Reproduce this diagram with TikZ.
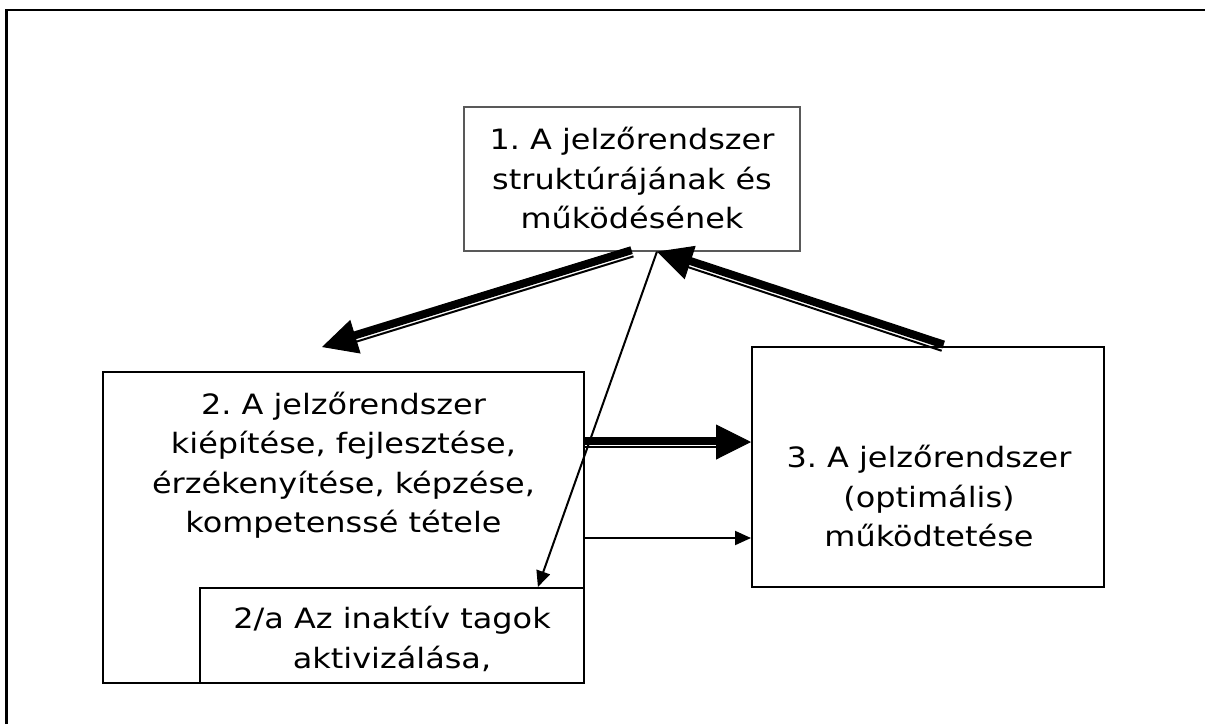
\documentclass[tikz,border=0pt]{standalone}
\usepackage{fontspec}
\setmainfont[FakeStretch=1.14]{DejaVu Sans}
\usetikzlibrary{arrows.meta,calc}
\newcommand\wdarrow[4]{%
  \draw[line width=8pt, shorten >=30pt] ($(#1)!#3!90:(#2)$) -- ($(#2)!#3!-90:(#1)$);
  \draw[line width=2pt, shorten >=30pt] ($(#1)!#4!90:(#2)$) -- ($(#2)!#4!-90:(#1)$);
  \draw[line width=1pt, -{Triangle[length=35pt,width=35pt]}] (#1) -- (#2);
}
\begin{document}
\frenchspacing
\begin{tikzpicture}[x=1pt,y=-1pt,
  box/.style={draw=black, line width=2pt, fill=white, rectangle, inner sep=0pt},
  txt/.style={align=center, inner sep=0pt, font=\fontsize{28pt}{39.5pt}\selectfont},
  thinarrow/.style={line width=2pt, -{Triangle[length=16pt,width=14pt]}}]
\useasboundingbox (0,0) rectangle (1205,724);
\fill[white] (0,0) rectangle (1205,724);
\draw[line width=2.5pt] (6.5,724) -- (6.5,10) -- (1205,10);
% boxes
\node[box, draw=black!65, line width=1.2pt, minimum width=336pt, minimum height=144pt] (b1) at (632,179) {};
\node[txt] (t1) at (632,178) {1. A jelzőrendszer\\struktúrájának és\\működésének};
\node[box, minimum width=481pt, minimum height=311pt] (b2) at (343.5,527.5) {};
\node[txt] (t2) at (343.5,465) {2. A jelzőrendszer\\kiépítése, fejlesztése,\\érzékenyítése, képzése,\\kompetenssé tétele};
\node[box, minimum width=384pt, minimum height=95pt] (b2a) at (392,635.5) {};
\node[txt] (t2a) at (392,639) {2/a Az inaktív tagok\\aktivizálása,};
\node[box, minimum width=352pt, minimum height=240pt] (b3) at (928,467) {};
\node[txt] (t3) at (929,496) {3. A jelzőrendszer\\(optimális)\\működtetése};
% coordinates
\coordinate (a1t) at (322,347);
\coordinate (a2s) at ($(b3.north west)!0.543!(b3.north east)$);
\coordinate (a2t) at ($(b1.south west)!0.574!(b1.south east)$);
\coordinate (a3s) at ($(b2.north east)+(0,71)$);
\coordinate (a3t) at (b3.west |- a3s);
\coordinate (a4s) at ($(b2.north east)+(0,167)$);
\coordinate (a4t) at (b3.west |- a4s);
\coordinate (a5t) at ($(b2a.north west)!0.878!(b2a.north east)$);
% connectors
\wdarrow{b1.south}{a1t}{-1.5pt}{5pt}
\wdarrow{a2s}{a2t}{-1.5pt}{5pt}
\wdarrow{a3s}{a3t}{1.5pt}{-5pt}
\draw[thinarrow] (a4s) -- (a4t);
\draw[thinarrow] (a2t) -- (a5t);
\end{tikzpicture}
\end{document}
